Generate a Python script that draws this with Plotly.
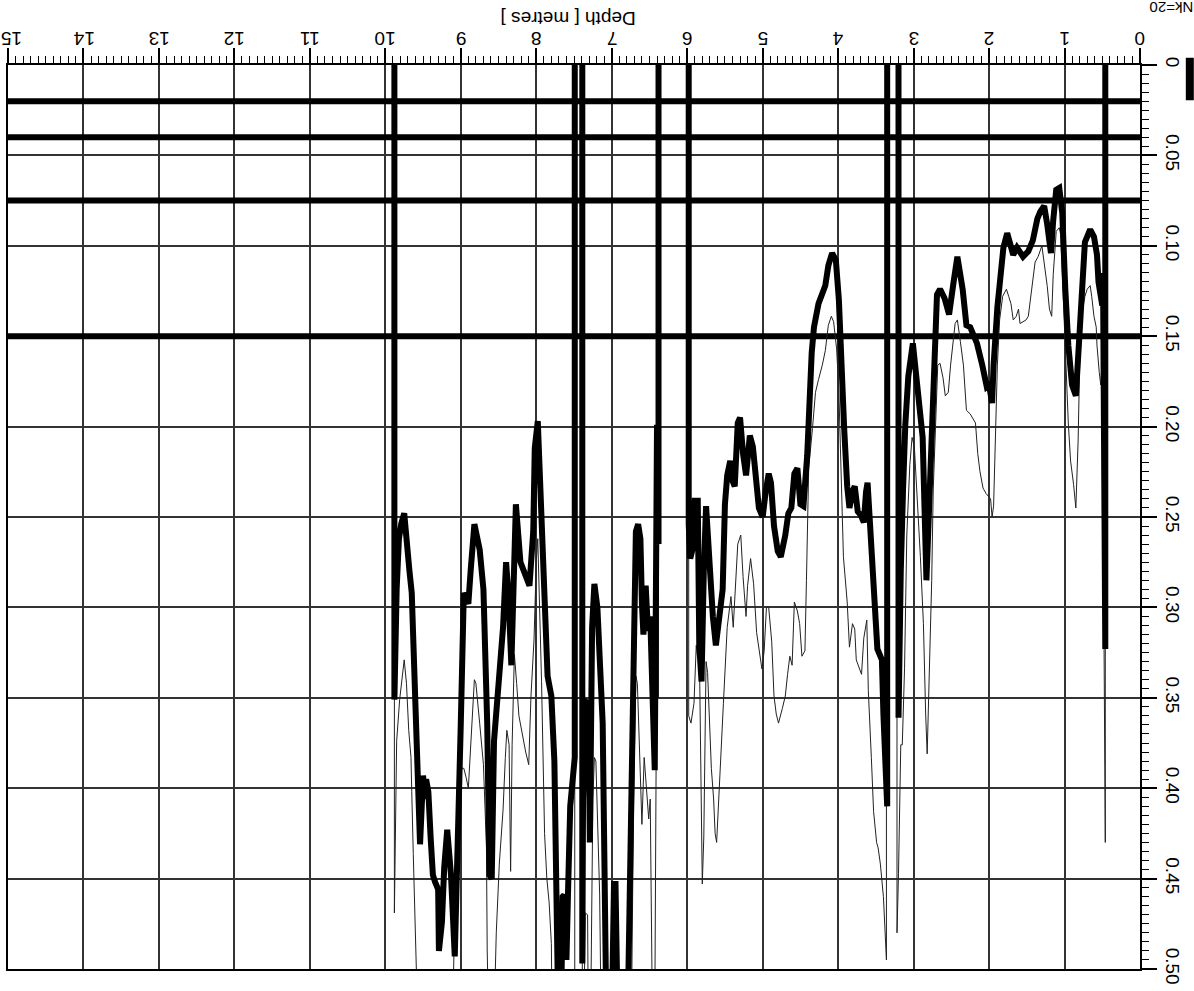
import plotly.graph_objects as go

NULL = -999.25  # log null value, plotted off the top of the track

# Thick curve (Nk=20): depth [m] and value
thick_depth = [0.44, 0.46, 0.49, 0.50, 0.55, 0.57, 0.61, 0.66, 0.73, 0.77, 0.82, 0.85, 0.90, 0.95, 0.99,
               1.03, 1.07, 1.11, 1.15, 1.18, 1.23, 1.27, 1.32, 1.36, 1.42, 1.48, 1.55, 1.59, 1.63, 1.68,
               1.76, 1.81, 1.86, 1.89, 1.94, 1.96, 2.00, 2.03, 2.09, 2.16, 2.25, 2.30, 2.35, 2.42, 2.47,
               2.53, 2.59, 2.65, 2.69, 2.72, 2.75, 2.80, 2.83, 2.88, 2.95, 3.01, 3.07, 3.11, 3.14, 3.17,
               3.20, 3.24, 3.34, 3.35, 3.40, 3.42, 3.48, 3.50, 3.53, 3.57, 3.61, 3.63, 3.66, 3.70, 3.74,
               3.78, 3.81, 3.85, 3.88, 3.92, 3.95, 3.99, 4.03, 4.08, 4.13, 4.17, 4.26, 4.32, 4.35, 4.38,
               4.41, 4.46, 4.50, 4.54, 4.58, 4.62, 4.66, 4.70, 4.76, 4.80, 4.85, 4.89, 4.92, 4.96, 5.00,
               5.05, 5.09, 5.13, 5.17, 5.22, 5.26, 5.30, 5.33, 5.37, 5.40, 5.43, 5.47, 5.50, 5.53, 5.58,
               5.62, 5.66, 5.71, 5.75, 5.78, 5.81, 5.84, 5.86, 5.90, 5.93, 5.96, 5.98, 6.00, 6.37, 6.38,
               6.40, 6.43, 6.49, 6.52, 6.55, 6.58, 6.60, 6.62, 6.65, 6.68, 6.70, 6.73, 6.76, 6.79, 6.92,
               6.95, 6.97, 7.00, 7.07, 7.12, 7.19, 7.23, 7.26, 7.29, 7.31, 7.35, 7.38, 7.39, 7.40, 7.48,
               7.49, 7.53, 7.55, 7.58, 7.60, 7.63, 7.65, 7.67, 7.71, 7.76, 7.80, 7.85, 7.89, 7.94, 7.98,
               8.02, 8.04, 8.09, 8.16, 8.21, 8.27, 8.29, 8.33, 8.37, 8.40, 8.44, 8.51, 8.56, 8.59, 8.62,
               8.65, 8.70, 8.75, 8.80, 8.82, 8.87, 8.90, 8.93, 8.96, 9.00, 9.03, 9.08, 9.13, 9.15, 9.18,
               9.22, 9.25, 9.29, 9.30, 9.34, 9.37, 9.40, 9.43, 9.46, 9.48, 9.50, 9.54, 9.56, 9.59, 9.62,
               9.65, 9.68, 9.72, 9.75, 9.79, 9.82, 9.85, 9.88, 9.89]
thick_value = [NULL, 0.323, 0.115, 0.133, 0.120, 0.105, 0.095, 0.091, 0.098, 0.124, 0.162, 0.183, 0.177, 0.155, 0.124,
               0.082, 0.068, 0.069, 0.086, 0.104, 0.088, 0.078, 0.081, 0.085, 0.097, 0.103, 0.106, 0.104, 0.101, 0.105,
               0.093, 0.101, 0.120, 0.134, 0.166, 0.187, 0.177, 0.178, 0.166, 0.154, 0.145, 0.144, 0.124, 0.106, 0.120,
               0.138, 0.129, 0.124, 0.127, 0.162, 0.211, 0.260, 0.285, 0.206, 0.174, 0.154, 0.172, 0.199, 0.235, 0.280,
               0.361, NULL, NULL, 0.410, 0.359, 0.329, 0.323, 0.309, 0.285, 0.255, 0.231, 0.236, 0.253, 0.249, 0.247,
               0.233, 0.236, 0.245, 0.233, 0.201, 0.166, 0.130, 0.108, 0.104, 0.111, 0.122, 0.132, 0.145, 0.159, 0.191,
               0.216, 0.244, 0.243, 0.223, 0.226, 0.245, 0.248, 0.260, 0.272, 0.269, 0.255, 0.231, 0.226, 0.236, 0.250,
               0.245, 0.231, 0.211, 0.205, 0.227, 0.215, 0.195, 0.198, 0.233, 0.230, 0.219, 0.227, 0.243, 0.290, 0.309,
               0.321, 0.305, 0.265, 0.244, 0.280, 0.341, 0.321, 0.241, 0.241, 0.268, 0.273, 0.254, NULL, NULL, 0.265,
               0.199, 0.390, 0.305, 0.313, 0.288, 0.315, 0.298, 0.262, 0.254, 0.258, 0.321, 0.406, 0.469, 0.530, 0.530,
               0.453, 0.453, 0.530, 0.530, 0.364, 0.300, 0.287, 0.311, 0.430, 0.353, 0.352, 0.406, 0.497, NULL, NULL,
               0.383, 0.406, 0.410, 0.459, 0.495, 0.459, 0.460, 0.520, 0.520, 0.385, 0.349, 0.338, 0.300, 0.237, 0.197,
               0.212, 0.258, 0.288, 0.281, 0.275, 0.243, 0.275, 0.332, 0.292, 0.275, 0.311, 0.347, 0.374, 0.450, 0.448,
               0.364, 0.290, 0.268, 0.256, 0.254, 0.280, 0.298, 0.295, 0.292, 0.364, 0.406, 0.493, 0.448, 0.440, 0.423,
               0.444, 0.474, 0.490, 0.456, 0.452, 0.448, 0.427, 0.402, 0.395, 0.406, 0.393, 0.431, 0.406, 0.364, 0.321,
               0.292, 0.280, 0.262, 0.248, 0.254, 0.262, 0.290, 0.351, NULL]

# Thin curve: depth [m] and value
thin_depth = [0.44, 0.46, 0.50, 0.52, 0.54, 0.57, 0.58, 0.61, 0.64, 0.66, 0.70, 0.73, 0.76, 0.80, 0.82,
              0.85, 0.88, 0.92, 0.95, 0.98, 1.02, 1.05, 1.07, 1.11, 1.15, 1.17, 1.20, 1.23, 1.30, 1.35,
              1.39, 1.43, 1.48, 1.51, 1.55, 1.59, 1.61, 1.64, 1.68, 1.71, 1.74, 1.77, 1.82, 1.86, 1.89,
              1.92, 1.94, 1.96, 1.98, 2.04, 2.08, 2.12, 2.15, 2.18, 2.25, 2.30, 2.34, 2.38, 2.42, 2.45,
              2.48, 2.51, 2.54, 2.58, 2.61, 2.65, 2.68, 2.71, 2.74, 2.76, 2.79, 2.82, 2.84, 2.87, 2.91,
              2.95, 2.99, 3.02, 3.05, 3.09, 3.12, 3.15, 3.17, 3.20, 3.22, 3.24, 3.34, 3.36, 3.40, 3.44,
              3.47, 3.49, 3.53, 3.56, 3.60, 3.62, 3.66, 3.69, 3.73, 3.76, 3.78, 3.81, 3.85, 3.88, 3.93,
              3.96, 3.99, 4.02, 4.06, 4.09, 4.13, 4.17, 4.21, 4.26, 4.30, 4.34, 4.39, 4.42, 4.44, 4.48,
              4.51, 4.54, 4.58, 4.61, 4.64, 4.67, 4.70, 4.74, 4.79, 4.82, 4.85, 4.88, 4.92, 4.95, 4.98,
              5.01, 5.05, 5.08, 5.12, 5.16, 5.20, 5.22, 5.26, 5.29, 5.33, 5.36, 5.39, 5.42, 5.47, 5.52,
              5.55, 5.58, 5.61, 5.63, 5.65, 5.68, 5.71, 5.73, 5.75, 5.78, 5.80, 5.82, 5.84, 5.86, 5.88,
              5.91, 5.95, 5.98, 6.00, 6.37, 6.38, 6.40, 6.43, 6.46, 6.47, 6.49, 6.51, 6.54, 6.57, 6.60,
              6.64, 6.66, 6.68, 6.71, 6.74, 7.14, 7.16, 7.18, 7.21, 7.23, 7.25, 7.28, 7.31, 7.32, 7.35,
              7.37, 7.39, 7.40, 7.48, 7.49, 7.79, 7.80, 7.83, 7.86, 7.89, 7.93, 7.96, 7.98, 8.00, 8.03,
              8.07, 8.10, 8.14, 8.18, 8.23, 8.26, 8.29, 8.32, 8.34, 8.36, 8.39, 8.41, 8.44, 8.49, 8.53,
              8.56, 8.63, 8.65, 8.66, 8.68, 8.70, 8.75, 8.80, 8.82, 8.85, 8.87, 8.90, 8.93, 8.96, 9.00,
              9.04, 9.08, 9.11, 9.57, 9.59, 9.61, 9.63, 9.65, 9.66, 9.69, 9.72, 9.75, 9.78, 9.81, 9.85,
              9.88, 9.89]
thin_value = [NULL, 0.430, 0.162, 0.177, 0.170, 0.155, 0.145, 0.139, 0.128, 0.122, 0.124, 0.128, 0.135, 0.166, 0.208,
              0.245, 0.232, 0.219, 0.198, 0.166, 0.124, 0.094, 0.090, 0.092, 0.116, 0.139, 0.135, 0.122, 0.100, 0.106,
              0.109, 0.124, 0.139, 0.141, 0.142, 0.143, 0.135, 0.139, 0.141, 0.132, 0.128, 0.124, 0.128, 0.141, 0.166,
              0.208, 0.244, 0.250, 0.240, 0.237, 0.234, 0.225, 0.215, 0.198, 0.193, 0.191, 0.166, 0.153, 0.141, 0.143,
              0.153, 0.166, 0.181, 0.183, 0.173, 0.165, 0.166, 0.199, 0.235, 0.285, 0.334, 0.381, 0.359, 0.309, 0.272,
              0.240, 0.211, 0.206, 0.221, 0.260, 0.334, 0.376, 0.376, 0.447, 0.480, NULL, NULL, 0.495, 0.460, 0.442,
              0.433, 0.430, 0.413, 0.383, 0.346, 0.307, 0.317, 0.337, 0.332, 0.329, 0.312, 0.309, 0.322, 0.297, 0.272,
              0.223, 0.181, 0.157, 0.142, 0.139, 0.144, 0.158, 0.166, 0.174, 0.181, 0.201, 0.223, 0.285, 0.324, 0.327,
              0.309, 0.302, 0.297, 0.332, 0.327, 0.337, 0.349, 0.356, 0.364, 0.359, 0.349, 0.319, 0.300, 0.300, 0.324,
              0.334, 0.324, 0.314, 0.287, 0.273, 0.288, 0.305, 0.283, 0.260, 0.265, 0.292, 0.311, 0.294, 0.311, 0.353,
              0.379, 0.404, 0.430, 0.425, 0.406, 0.389, 0.353, 0.336, 0.330, 0.427, 0.453, 0.385, 0.320, 0.328, 0.321,
              0.353, 0.364, 0.360, NULL, NULL, 0.350, 0.292, 0.530, 0.530, 0.469, 0.406, 0.417, 0.397, 0.383, 0.420,
              0.368, 0.342, 0.338, 0.406, 0.530, 0.530, 0.459, 0.427, 0.385, 0.383, 0.406, 0.530, 0.530, 0.470, 0.469,
              0.530, 0.530, NULL, NULL, 0.530, 0.530, 0.486, 0.463, 0.450, 0.425, 0.341, 0.300, 0.262, 0.275, 0.318,
              0.349, 0.387, 0.380, 0.370, 0.360, 0.342, 0.326, 0.376, 0.446, 0.376, 0.368, 0.383, 0.412, 0.442, 0.480,
              0.530, 0.530, 0.490, 0.433, 0.410, 0.387, 0.364, 0.342, 0.340, 0.360, 0.380, 0.400, 0.394, 0.389, 0.389,
              0.410, 0.470, 0.530, 0.530, 0.500, 0.480, 0.436, 0.402, 0.383, 0.368, 0.342, 0.329, 0.342, 0.351, 0.374,
              0.469, NULL]

# Horizontal reference levels drawn across the whole depth range
ref_levels = [0.02, 0.04, 0.075, 0.15]
depth_span = [0, 15]

depth_ticks = list(range(0, 16))
depth_ticktext = [str(t) for t in depth_ticks]
value_ticks = [0, 0.05, 0.10, 0.15, 0.20, 0.25, 0.30, 0.35, 0.40, 0.45, 0.50]
value_ticktext = ["0", "0.05", "0.10", "0.15", "0.20", "0.25", "0.30", "0.35", "0.40", "0.45", "0.50"]

FONT = "Liberation Sans, Arial, sans-serif"

fig = go.Figure()

for lvl in ref_levels:
    fig.add_trace(go.Scatter(x=depth_span, y=[lvl, lvl], mode="lines",
                             line=dict(color="black", width=6), showlegend=False,
                             hoverinfo="skip"))

fig.add_trace(go.Scatter(x=thin_depth, y=thin_value, mode="lines",
                         line=dict(color="#222222", width=1), showlegend=False))
fig.add_trace(go.Scatter(x=thick_depth, y=thick_value, mode="lines",
                         line=dict(color="black", width=6), name="Nk=20", showlegend=False))

axis_common = dict(
    showline=True, linecolor="black", linewidth=1.5, mirror=True,
    showgrid=True, gridcolor="#333333", gridwidth=1.5,
    ticks="outside", ticklen=15, tickwidth=1.5, tickcolor="black",
    zeroline=False, tickfont=dict(family=FONT, size=19, color="black"),
)

fig.update_xaxes(
    range=[15, 0], side="top", tickmode="array", tickvals=depth_ticks,
    showticklabels=False,
    minor=dict(dtick=0.1, ticks="outside", ticklen=7, tickwidth=1, tickcolor="black", showgrid=False),
    **axis_common,
)
fig.update_yaxes(
    range=[0.5, 0], side="right", tickmode="array", tickvals=value_ticks,
    ticktext=value_ticktext, tickangle=90, ticklabelstandoff=2,
    minor=dict(dtick=0.005, ticks="outside", ticklen=7, tickwidth=1, tickcolor="black", showgrid=False),
    **axis_common,
)

# Depth tick labels, upside down above the top axis
for t, label in zip(depth_ticks, depth_ticktext):
    fig.add_annotation(text=label, textangle=180, showarrow=False,
                       xref="x", yref="paper", x=t, y=1.0287,
                       xanchor="center", yanchor="middle",
                       xshift=4 if t == depth_ticks[-1] else 0,
                       font=dict(family=FONT, size=19, color="black"))

# Axis title, upside down above the depth tick labels
fig.add_annotation(text="Depth [ metres ]", textangle=180, showarrow=False,
                   xref="paper", yref="paper", x=0.495, y=1.052,
                   xanchor="center", yanchor="middle",
                   font=dict(family=FONT, size=19, color="black"))

# Legend sample: bar and label in the top-right corner
fig.add_shape(type="line", xref="paper", yref="paper", x0=1.044, x1=1.044, y0=1.008, y1=0.961,
              line=dict(color="black", width=8))
fig.add_annotation(text="Nk=20", textangle=180, showarrow=False,
                   xref="paper", yref="paper", x=1.0275, y=1.063,
                   xanchor="center", yanchor="middle",
                   font=dict(family=FONT, size=15, color="black"))

fig.update_layout(
    width=1194, height=991,
    margin=dict(l=6, r=54, t=65, b=19),
    paper_bgcolor="white", plot_bgcolor="white",
    showlegend=False,
)

fig.write_html("out.html")
